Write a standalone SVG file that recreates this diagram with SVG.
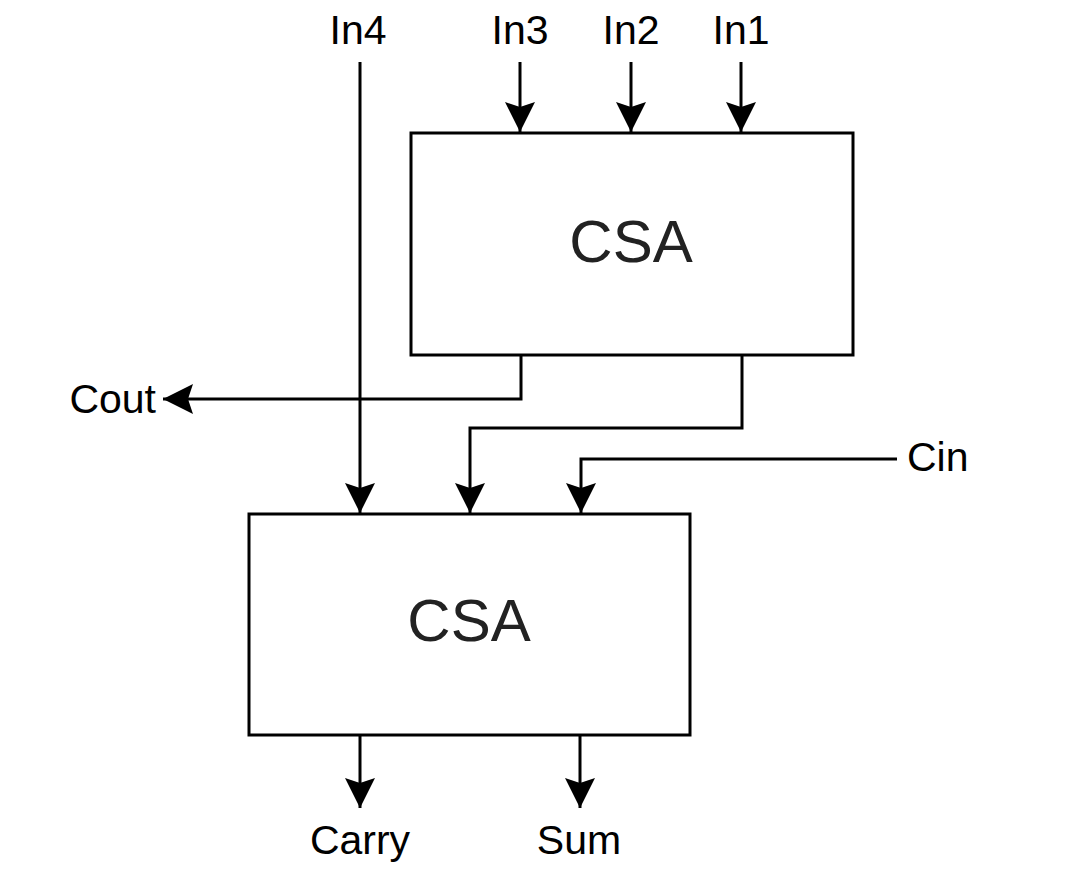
<svg xmlns="http://www.w3.org/2000/svg" width="1083" height="870" viewBox="0 0 1083 870">
<style>
.box{fill:#fff;stroke:#000;stroke-width:3}
.w{fill:none;stroke:#000;stroke-width:3}
.lbl{font-family:"Liberation Sans",Arial,sans-serif;font-size:41px;fill:#000}
.big{font-family:"Liberation Sans",Arial,sans-serif;font-size:60px;fill:#222;text-anchor:middle}
</style>
<defs>
<marker id="ah" markerUnits="userSpaceOnUse" markerWidth="36" markerHeight="36" viewBox="-34 -18 36 36" refX="0" refY="0" orient="auto">
<path d="M0,0 L-30,-15 L-25,0 L-30,15 Z" fill="#000"/>
</marker>
</defs>
<rect width="1083" height="870" fill="#fff"/>
<g id="csa1"><rect class="box" x="411" y="133" width="442" height="222"/><text class="big" x="631" y="262">CSA</text></g>
<g id="csa2"><rect class="box" x="249" y="514" width="441" height="221"/><text class="big" x="469" y="641">CSA</text></g>
<g id="labels">
<text class="lbl" x="358" y="44" text-anchor="middle">In4</text>
<text class="lbl" x="520" y="44" text-anchor="middle">In3</text>
<text class="lbl" x="631" y="44" text-anchor="middle">In2</text>
<text class="lbl" x="741" y="44" text-anchor="middle">In1</text>
<text class="lbl" x="156" y="413" text-anchor="end">Cout</text>
<text class="lbl" x="907" y="471">Cin</text>
<text class="lbl" x="360" y="854" text-anchor="middle">Carry</text>
<text class="lbl" x="579" y="854" text-anchor="middle">Sum</text>
</g>
<g id="connectors">
<path class="w" d="M360,62 V513" marker-end="url(#ah)"/>
<path class="w" d="M520,62 V132" marker-end="url(#ah)"/>
<path class="w" d="M631,62 V132" marker-end="url(#ah)"/>
<path class="w" d="M741,62 V132" marker-end="url(#ah)"/>
<path class="w" d="M521,355 V399 H163" marker-end="url(#ah)"/>
<path class="w" d="M742,355 V428 H470 V513" marker-end="url(#ah)"/>
<path class="w" d="M897,459 H581 V513" marker-end="url(#ah)"/>
<path class="w" d="M360,735 V808" marker-end="url(#ah)"/>
<path class="w" d="M580,735 V808" marker-end="url(#ah)"/>
</g>
</svg>
